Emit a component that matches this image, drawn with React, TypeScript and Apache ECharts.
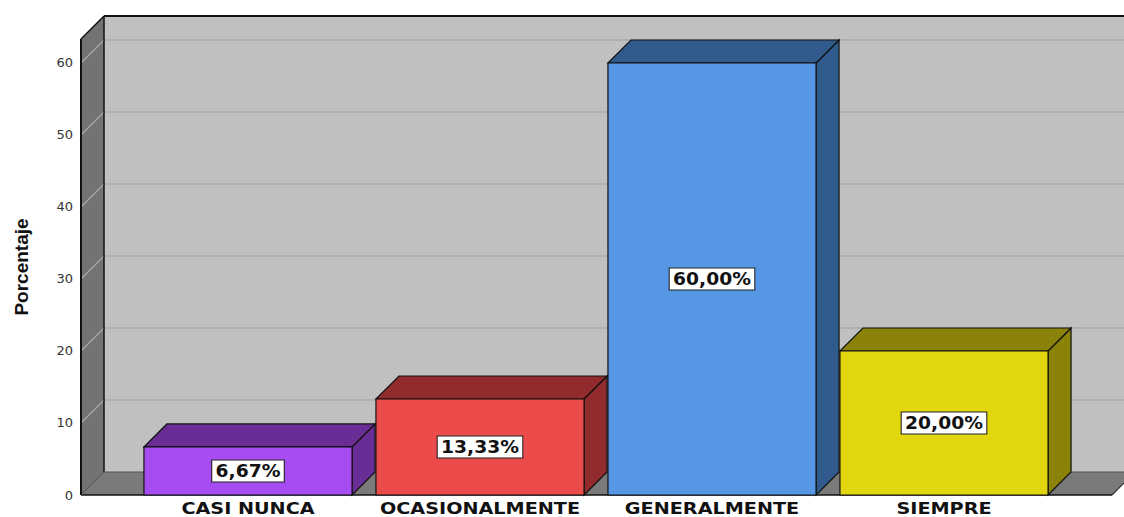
import React, { useEffect, useRef } from "react";
import * as echarts from "echarts";

const categories = ["CASI NUNCA", "OCASIONALMENTE", "GENERALMENTE", "SIEMPRE"];
const percentages = [6.67, 13.33, 60.0, 20.0];
const frontColors = ["#A64CF0", "#EC4B4B", "#5596E5", "#E2D60F"];
const shadeColors = ["#6A2C95", "#922B2D", "#325B8D", "#8B820A"];
const yTicks = [10, 20, 30, 40, 50, 60];
const yMax = 63.33;

const DX = 23;
const DY = -23;
const WALL_LEFT = 51;
const WALL_RIGHT = 52;

function fmt(v: number): string {
  return v.toFixed(2).replace(".", ",") + "%";
}

export default function App() {
  const ref = useRef<HTMLDivElement>(null);

  useEffect(() => {
    if (!ref.current) return;
    const chart = echarts.init(ref.current, null, { renderer: "svg" });

    const wallsRender = (params: any, api: any) => {
      const cs = params.coordSys;
      const x0 = cs.x - WALL_LEFT;
      const x1 = cs.x + cs.width + WALL_RIGHT;
      const yb = api.coord([0, 0])[1];
      const yt = api.coord([0, yMax])[1];
      const children: any[] = [];
      children.push({
        type: "rect",
        shape: { x: x0 + DX, y: yt + DY, width: x1 - x0 + 30, height: yb - yt },
        style: { fill: "#C0C0C0" },
      });
      children.push({
        type: "polygon",
        shape: { points: [[x0, yb], [x0, yt], [x0 + DX, yt + DY], [x0 + DX, yb + DY]] },
        style: { fill: "#737373" },
      });
      children.push({
        type: "polygon",
        shape: { points: [[x0, yb], [x0 + DX, yb + DY], [x1 + DX, yb + DY], [x1, yb]] },
        style: { fill: "#7A7A7A" },
      });
      yTicks.forEach((t) => {
        const y = api.coord([0, t])[1];
        children.push({
          type: "line",
          shape: { x1: x0 + DX, y1: y + DY, x2: x1 + DX + 30, y2: y + DY },
          style: { stroke: "#ABABAB", lineWidth: 1.5 },
        });
        children.push({
          type: "line",
          shape: { x1: x0, y1: y, x2: x0 + DX, y2: y + DY },
          style: { stroke: "#A8A8A8", lineWidth: 1.2 },
        });
      });
      const black = { stroke: "#111", lineWidth: 2 };
      children.push({ type: "line", shape: { x1: x0, y1: yt, x2: x0, y2: yb }, style: black });
      children.push({ type: "line", shape: { x1: x0 + DX, y1: yt + DY, x2: x0 + DX, y2: yb + DY }, style: { stroke: "#111", lineWidth: 1.5 } });
      children.push({ type: "line", shape: { x1: x0, y1: yt, x2: x0 + DX, y2: yt + DY }, style: { stroke: "#111", lineWidth: 1.5 } });
      children.push({ type: "line", shape: { x1: x0 + DX, y1: yt + DY, x2: x1 + DX + 30, y2: yt + DY }, style: black });
      children.push({ type: "line", shape: { x1: x0 + DX, y1: yb + DY, x2: x1 + DX, y2: yb + DY }, style: { stroke: "#555", lineWidth: 1 } });
      children.push({ type: "line", shape: { x1: x0, y1: yb, x2: x1, y2: yb }, style: { stroke: "#111", lineWidth: 1.5 } });
      children.push({ type: "line", shape: { x1: x0, y1: yb, x2: x0 + DX, y2: yb + DY }, style: { stroke: "#555", lineWidth: 1 } });
      children.push({ type: "line", shape: { x1: x1, y1: yb, x2: x1 + DX, y2: yb + DY }, style: { stroke: "#333", lineWidth: 1.2 } });
      return { type: "group", children };
    };

    const barsRender = (params: any, api: any) => {
      const i = api.value(0);
      const v = api.value(1);
      const top = api.coord([i, v]);
      const base = api.coord([i, 0]);
      const mid = api.coord([i, v / 2]);
      const bw = api.size([1, 0])[0] * 0.897;
      const xl = top[0] - bw / 2;
      const xr = top[0] + bw / 2;
      const yT = top[1];
      const yB = base[1];
      const edge = { stroke: "#111", lineWidth: 1.2 };
      return {
        type: "group",
        children: [
          {
            type: "polygon",
            shape: { points: [[xr, yB], [xr, yT], [xr + DX, yT + DY], [xr + DX, yB + DY]] },
            style: { fill: shadeColors[i], ...edge },
          },
          {
            type: "polygon",
            shape: { points: [[xl, yT], [xl + DX, yT + DY], [xr + DX, yT + DY], [xr, yT]] },
            style: { fill: shadeColors[i], ...edge },
          },
          {
            type: "rect",
            shape: { x: xl, y: yT, width: bw, height: yB - yT },
            style: { fill: frontColors[i], ...edge },
          },
          {
            type: "text",
            x: mid[0],
            y: mid[1],
            scaleX: 1.1,
            style: {
              text: fmt(v),
              x: 0,
              y: 0,
              align: "center",
              verticalAlign: "middle",
              font: 'bold 17px "DejaVu Sans"',
              fill: "#111",
              backgroundColor: "#FFFFFF",
              borderColor: "#222",
              borderWidth: 1,
              padding: [2, 3],
            },
          },
          {
            type: "text",
            x: base[0],
            y: yB + 14,
            scaleX: 1.2,
            style: {
              text: categories[i],
              x: 0,
              y: 0,
              align: "center",
              verticalAlign: "middle",
              font: 'bold 16px "DejaVu Sans"',
              lineHeight: 14,
              fill: "#111",
            },
          },
        ],
      };
    };

    chart.setOption({
      animation: false,
      backgroundColor: "#FFFFFF",
      grid: { left: 132, right: 64, top: 39, bottom: 22 },
      xAxis: {
        type: "category",
        data: categories,
        axisLine: { show: false },
        axisTick: { show: false },
        axisLabel: { show: false },
        splitLine: { show: false },
      },
      yAxis: {
        type: "value",
        min: 0,
        max: yMax,
        interval: 10,
        offset: WALL_LEFT,
        name: "Porcentaje",
        nameLocation: "middle",
        nameRotate: 90,
        nameGap: 50,
        nameTextStyle: { fontFamily: "Liberation Sans", fontWeight: "bold", fontSize: 19, color: "#111" },
        axisLine: { show: false },
        axisTick: { show: false },
        splitLine: { show: false },
        axisLabel: {
          margin: 8,
          fontFamily: "DejaVu Sans",
          fontSize: 13,
          color: "#333",
          formatter: (v: number) => (v % 10 === 0 ? String(v) : ""),
        },
      },
      series: [
        {
          type: "custom",
          name: "walls",
          renderItem: wallsRender,
          data: [[0, 0]],
          z: 1,
          silent: true,
        },
        {
          type: "custom",
          name: "Porcentaje",
          renderItem: barsRender,
          data: percentages.map((v, i) => [i, v]),
          z: 2,
        },
      ],
    });

    return () => chart.dispose();
  }, []);

  return <div ref={ref} style={{ position: "absolute", left: 0, top: 0, width: 1124, height: 517 }} />;
}
